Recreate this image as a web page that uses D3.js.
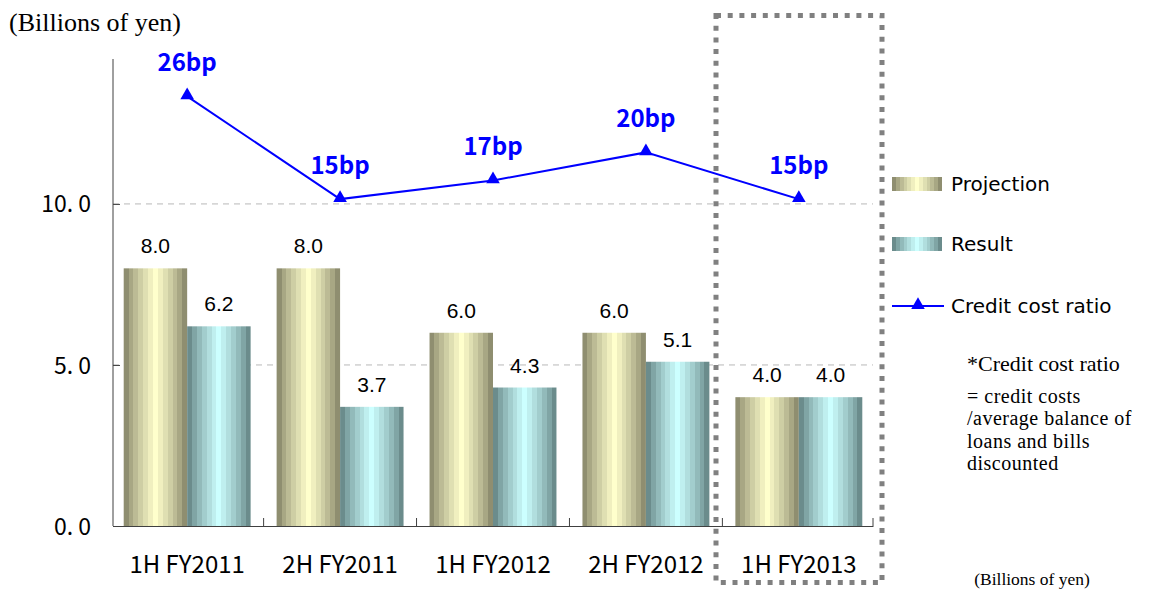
<!DOCTYPE html>
<html>
<head>
<meta charset="utf-8">
<script src="https://cdn.jsdelivr.net/npm/d3@7"></script>
<style>
  html, body { margin: 0; padding: 0; background: #fff; }
  svg { display: block; }
</style>
</head>
<body>
<svg id="chart" width="1149" height="589"></svg>
<script>
// ---- data ----
const categories = ["1H FY2011", "2H FY2011", "1H FY2012", "2H FY2012", "1H FY2013"];
const projection = [8.0, 8.0, 6.0, 6.0, 4.0];
const result = [6.2, 3.7, 4.3, 5.1, 4.0];
const creditCostBp = [26, 15, 17, 20, 15];
const yTicks = [0, 5, 10];
const seriesNames = ["Projection", "Result"];
const footnoteLines = ["= credit costs", "/average balance of", "loans and bills", "discounted"];

// ---- layout ----
const svg = d3.select("#chart");
const plot = { left: 113, right: 873, top: 59, bottom: 526 };
const gothic = "'Noto Sans CJK JP', 'DejaVu Sans', sans-serif";
const serif = "'Liberation Serif', 'DejaVu Serif', serif";

const x = d3.scaleBand().domain(categories)
  .range([plot.left, plot.right]).paddingInner(0.17).paddingOuter(0.07);
const xSeries = d3.scaleBand().domain(seriesNames).range([0, x.bandwidth()]);
const y = d3.scaleLinear().domain([0, 14.5]).range([plot.bottom, plot.top]);
const yBp = d3.scaleLinear().domain([-20, 30]).range([plot.bottom, plot.top]);

// ---- striped cylinder-like gradients ----
const defs = svg.append("defs");
function stripedGradient(id, dark, light, bands) {
  const g = defs.append("linearGradient").attr("id", id)
    .attr("x1", "0%").attr("x2", "100%").attr("y1", "0%").attr("y2", "0%");
  const mix = d3.interpolateRgb(dark, light);
  for (let i = 0; i < bands; i++) {
    const t = (i + 0.5) / bands;
    const w = Math.pow(1 - Math.abs(2 * t - 1), 0.75);
    const c = mix(w);
    g.append("stop").attr("offset", (i / bands * 100) + "%").attr("stop-color", c);
    g.append("stop").attr("offset", ((i + 1) / bands * 100) + "%").attr("stop-color", c);
  }
}
stripedGradient("gradProjection", "#7c7b60", "#ffffcc", 13);
stripedGradient("gradResult", "#5a7878", "#ccffff", 13);
const fills = { Projection: "url(#gradProjection)", Result: "url(#gradResult)" };

// ---- gridlines ----
svg.append("g").selectAll("line").data(yTicks.filter(d => d > 0)).join("line")
  .attr("x1", plot.left).attr("x2", plot.right)
  .attr("y1", d => y(d)).attr("y2", d => y(d))
  .attr("stroke", "#b8b8b8").attr("stroke-width", 1).attr("stroke-dasharray", "6,5");

// ---- bars ----
const rows = categories.map((c, i) => ({ cat: c, values: [
  { key: "Projection", v: projection[i] }, { key: "Result", v: result[i] }] }));

const groups = svg.append("g").selectAll("g").data(rows).join("g")
  .attr("transform", d => `translate(${x(d.cat)},0)`);
groups.selectAll("rect").data(d => d.values).join("rect")
  .attr("x", d => xSeries(d.key)).attr("width", xSeries.bandwidth())
  .attr("y", d => y(d.v)).attr("height", d => y(0) - y(d.v))
  .attr("fill", d => fills[d.key]);
groups.selectAll("text").data(d => d.values).join("text")
  .attr("x", d => xSeries(d.key) + xSeries.bandwidth() / 2)
  .attr("y", d => y(d.v) - 15)
  .attr("text-anchor", "middle")
  .attr("font-family", "'Liberation Sans', Arial, sans-serif")
  .attr("font-size", 21).attr("fill", "#000")
  .text(d => d.v.toFixed(1));

// ---- axes ----
const yAxis = d3.axisLeft(y).tickValues(yTicks).tickSizeInner(-7).tickSizeOuter(0)
  .tickPadding(22).tickFormat(d => d.toFixed(1).replace(".", ". "));
const yg = svg.append("g").attr("transform", `translate(${plot.left},0)`).call(yAxis);
yg.select(".domain").attr("d", `M0,${plot.top}V${plot.bottom}`).attr("stroke", "#404040");
yg.selectAll(".tick line").attr("stroke", "#404040");
yg.selectAll(".tick text").attr("font-family", gothic).attr("font-size", 23)
  .attr("fill", "#000").attr("dy", "0.35em");

const xAxis = d3.axisBottom(x).tickSize(0).tickPadding(30);
const xg = svg.append("g").attr("transform", `translate(0,${plot.bottom})`).call(xAxis);
xg.select(".domain").attr("stroke", "#404040");
xg.selectAll(".tick text").attr("font-family", gothic).attr("font-size", 24).attr("fill", "#000");
// category boundary ticks pointing up
const boundaries = categories.map(c => x(c) - x.step() * x.paddingInner() / 2).concat([plot.right]);
xg.selectAll("line.sep").data(boundaries.slice(1)).join("line").attr("class", "sep")
  .attr("x1", d => d).attr("x2", d => d).attr("y1", 0).attr("y2", -8)
  .attr("stroke", "#404040");

// ---- credit cost ratio line ----
const pts = categories.map((c, i) => ({ cx: x(c) + x.bandwidth() / 2, v: creditCostBp[i] }));
svg.append("path").datum(pts)
  .attr("d", d3.line().x(d => d.cx).y(d => yBp(d.v)))
  .attr("fill", "none").attr("stroke", "#0000ff").attr("stroke-width", 2);
const tri = d3.symbol().type(d3.symbolTriangle).size(80);
svg.append("g").selectAll("path").data(pts).join("path")
  .attr("d", tri).attr("transform", d => `translate(${d.cx},${yBp(d.v) - 1})`)
  .attr("fill", "#0000ff");
svg.append("g").selectAll("text").data(pts).join("text")
  .attr("x", d => d.cx).attr("y", d => yBp(d.v) - 25)
  .attr("text-anchor", "middle").attr("font-family", gothic)
  .attr("font-weight", "bold").attr("font-size", 24).attr("fill", "#0000ff")
  .text(d => d.v + "bp");

// ---- highlight box around latest period ----
svg.append("rect").attr("x", 716).attr("y", 15.5).attr("width", 166).attr("height", 567)
  .attr("fill", "none").attr("stroke", "#808080").attr("stroke-width", 5)
  .attr("stroke-dasharray", "5,6.7");

// ---- legend ----
const legend = svg.append("g").attr("transform", "translate(892,0)");
const legendRows = [
  { name: "Projection", cy: 184, kind: "bar" },
  { name: "Result", cy: 244, kind: "bar" },
  { name: "Credit cost ratio", cy: 306, kind: "line" }
];
legendRows.forEach(r => {
  if (r.kind === "bar") {
    legend.append("rect").attr("x", 0).attr("y", r.cy - 7).attr("width", 50).attr("height", 14)
      .attr("fill", fills[r.name]);
  } else {
    legend.append("line").attr("x1", 0).attr("x2", 52).attr("y1", r.cy).attr("y2", r.cy)
      .attr("stroke", "#0000ff").attr("stroke-width", 2);
    legend.append("path").attr("d", tri).attr("transform", `translate(26,${r.cy - 1})`)
      .attr("fill", "#0000ff");
  }
  legend.append("text").attr("x", 59).attr("y", r.cy).attr("dy", "0.35em")
    .attr("font-family", "'DejaVu Sans', sans-serif").attr("font-size", 20).attr("fill", "#000")
    .text(r.name);
});

// ---- titles and footnote ----
svg.append("text").attr("x", 9).attr("y", 31).attr("font-family", serif)
  .attr("font-size", 26).attr("fill", "#000").text("(Billions of yen)");

svg.append("text").attr("x", 967).attr("y", 371).attr("font-family", serif)
  .attr("font-size", 22).attr("fill", "#000").text("*Credit cost ratio");
svg.append("g").selectAll("text").data(footnoteLines).join("text")
  .attr("x", 967).attr("y", (d, i) => 403 + i * 22.3)
  .attr("font-family", serif).attr("font-size", 20).attr("letter-spacing", 0.5)
  .attr("fill", "#000")
  .text(d => d);

svg.append("text").attr("x", 1032).attr("y", 585).attr("text-anchor", "middle")
  .attr("font-family", serif).attr("font-size", 17.5).attr("fill", "#000")
  .text("(Billions of yen)");
</script>
</body>
</html>
